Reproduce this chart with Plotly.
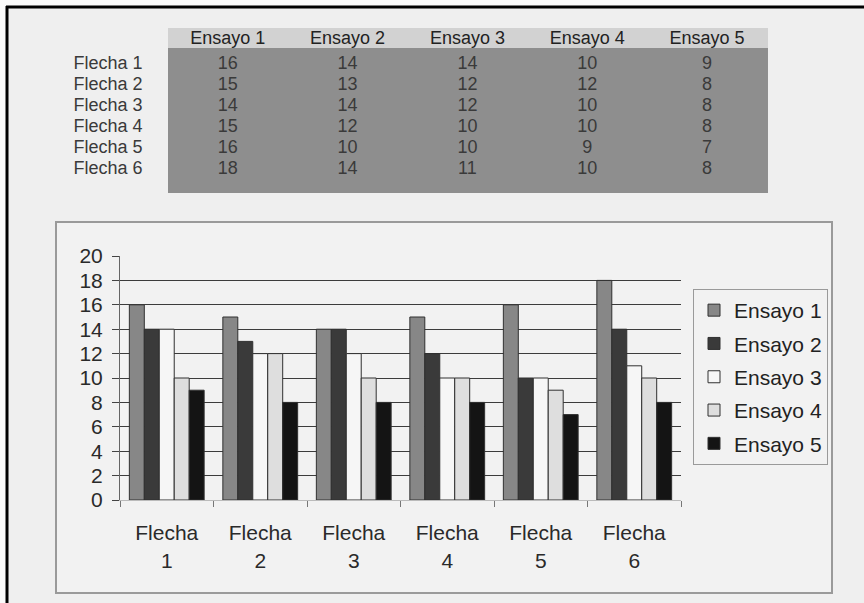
import plotly.graph_objects as go

# ---- data ----
flechas = ["Flecha 1", "Flecha 2", "Flecha 3", "Flecha 4", "Flecha 5", "Flecha 6"]
series_names = ["Ensayo 1", "Ensayo 2", "Ensayo 3", "Ensayo 4", "Ensayo 5"]
ensayo1 = [16, 15, 14, 15, 16, 18]
ensayo2 = [14, 13, 14, 12, 10, 14]
ensayo3 = [14, 12, 12, 10, 10, 11]
ensayo4 = [10, 12, 10, 10, 9, 10]
ensayo5 = [9, 8, 8, 8, 7, 8]
y_ticks = [0, 2, 4, 6, 8, 10, 12, 14, 16, 18, 20]

series_values = [ensayo1, ensayo2, ensayo3, ensayo4, ensayo5]
bar_colors = ["#878787", "#3a3a3a", "#f6f6f6", "#dedede", "#141414"]

W, H = 864, 603
FONT = "Liberation Sans, Arial, sans-serif"
PAGE_BG = "#efefef"
GRAY = "#8e8e8e"


def px_x(v):
    return v / W


def px_y(v):
    return 1 - v / H


fig = go.Figure()

# ---- bars ----
for name, vals, col in zip(series_names, series_values, bar_colors):
    fig.add_trace(go.Bar(
        x=flechas, y=vals, name=name, legendgroup=name,
        marker=dict(color=col, line=dict(color="#303030", width=1)),
    ))

# ---- table ----
fig.add_trace(go.Table(
    domain=dict(x=[px_x(48), px_x(768)], y=[px_y(198), px_y(22)]),
    columnwidth=[120] * 6,
    header=dict(
        values=[""] + series_names,
        fill=dict(color="rgba(0,0,0,0)"),
        line=dict(width=0, color="rgba(0,0,0,0)"),
        font=dict(family=FONT, size=18, color="#222222"),
        align="center", height=25,
    ),
    cells=dict(
        values=[flechas] + series_values,
        fill=dict(color="rgba(0,0,0,0)"),
        line=dict(width=0, color="rgba(0,0,0,0)"),
        font=dict(family=FONT, size=18, color="#3a3a3a"),
        align="center", height=21,
    ),
))

shapes = [
    # table backgrounds
    dict(type="rect", xref="paper", yref="paper", layer="below",
         x0=px_x(168), x1=px_x(768), y0=px_y(48), y1=px_y(28),
         fillcolor="#d2d2d2", line=dict(width=0)),
    dict(type="rect", xref="paper", yref="paper", layer="below",
         x0=px_x(168), x1=px_x(768), y0=px_y(193), y1=px_y(48),
         fillcolor=GRAY, line=dict(width=0)),
    # chart frame
    dict(type="rect", xref="paper", yref="paper", layer="below",
         x0=px_x(56), x1=px_x(832), y0=px_y(593), y1=px_y(222),
         fillcolor="#f2f2f2", line=dict(color="#9a9a9a", width=2)),
    # page frame (top and left)
    dict(type="line", xref="paper", yref="paper", layer="above",
         x0=px_x(6), x1=1, y0=px_y(7), y1=px_y(7),
         line=dict(color="#000000", width=3)),
    dict(type="line", xref="paper", yref="paper", layer="above",
         x0=px_x(7), x1=px_x(7), y0=px_y(6), y1=0,
         line=dict(color="#000000", width=3)),
    dict(type="rect", xref="paper", yref="paper", layer="below",
         x0=0, x1=1, y0=px_y(6), y1=1,
         fillcolor="#fafafa", line=dict(width=0)),
    dict(type="rect", xref="paper", yref="paper", layer="below",
         x0=0, x1=px_x(6), y0=0, y1=1,
         fillcolor="#fafafa", line=dict(width=0)),
]

fig.update_layout(
    template="none",
    width=W, height=H,
    margin=dict(l=0, r=0, t=0, b=0, autoexpand=False),
    paper_bgcolor=PAGE_BG,
    plot_bgcolor=GRAY,
    font=dict(family=FONT, color="#2a2a2a"),
    barmode="group", bargap=0.2, bargroupgap=0,
    showlegend=True,
    legend=dict(
        x=px_x(693), y=px_y(289), xanchor="left", yanchor="top",
        bgcolor="#f2f2f2", bordercolor="#9a9a9a", borderwidth=1,
        font=dict(family=FONT, size=21, color="#222222"),
        tracegroupgap=3, traceorder="grouped",
    ),
    xaxis=dict(
        domain=[px_x(120), px_x(681)], automargin=False,
        tickmode="array", tickvals=flechas,
        ticktext=[f.replace(" ", "<br>") for f in flechas],
        tickfont=dict(size=21, color="#2a2a2a"),
        ticks="outside", tickson="boundaries", ticklen=6, tickcolor="#777777",
        showline=True, linecolor="#bbbbbb", linewidth=1,
        showgrid=False, ticklabelstandoff=14,
    ),
    yaxis=dict(
        domain=[px_y(500), px_y(256)], automargin=False,
        range=[0, 20], tickvals=y_ticks,
        tickfont=dict(size=21, color="#2a2a2a"),
        ticks="outside", ticklen=7, tickcolor="#444444",
        showgrid=True, gridcolor="#3c3c3c", gridwidth=1,
        showline=True, linecolor="#666666", linewidth=1,
        zeroline=False, ticklabelstandoff=5,
    ),
    shapes=shapes,
)

fig.write_html(
    "out.html",
    config={"displayModeBar": False},
    post_script="document.body.style.margin='0px';document.body.style.overflow='hidden';",
)
